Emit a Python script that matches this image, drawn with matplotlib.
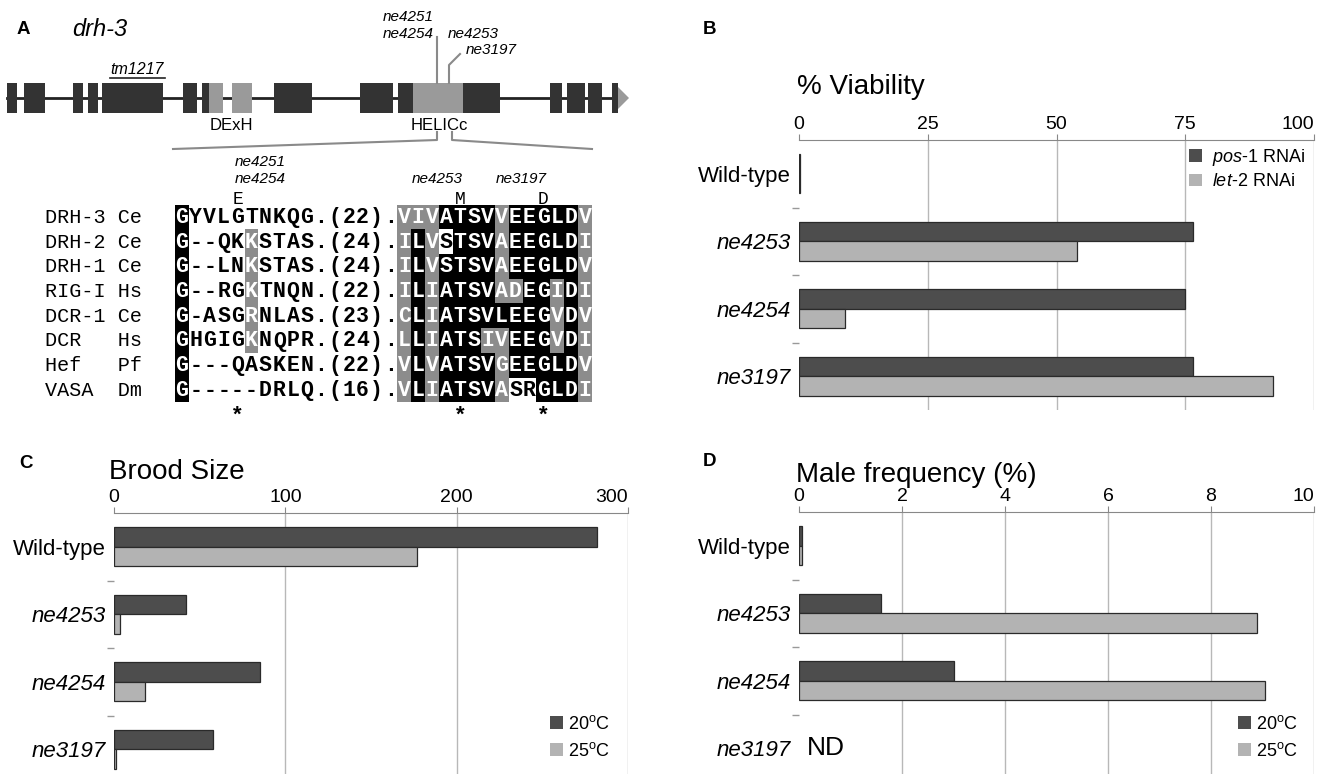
import numpy as np
import matplotlib
matplotlib.use('Agg')
import matplotlib.pyplot as plt
from matplotlib.patches import Rectangle, Polygon

plt.rcParams['font.family'] = ['Liberation Sans', 'DejaVu Sans']
plt.rcParams['mathtext.fontset'] = 'custom'
plt.rcParams['mathtext.rm'] = 'Liberation Sans'
plt.rcParams['mathtext.it'] = 'Liberation Sans:italic'

# ---------------- data ----------------
genotypes = ['Wild-type', 'ne4253', 'ne4254', 'ne3197']
viab_pos1 = [0.25, 76.5, 75.0, 76.5]
viab_let2 = [0.25, 54.0, 9.0, 92.0]
brood_20 = [282, 42, 85, 58]
brood_25 = [177, 3.5, 18, 1.0]
male_20 = [0.05, 1.6, 3.0, None]
male_25 = [0.05, 8.9, 9.05, None]

viab_ticks = [0, 25, 50, 75, 100]
brood_ticks = [0, 100, 200, 300]
male_ticks = [0, 2, 4, 6, 8, 10]

# gene model of drh-3 (pixel positions along the schematic)
exon_x0 = [7, 24, 73, 88, 102, 183, 202, 274, 360, 398, 463, 550, 567, 588, 612]
exon_x1 = [17, 45, 83, 98, 163, 197, 209, 312, 393, 413, 500, 562, 585, 602, 618]
domain_x0 = [209, 232, 413]
domain_x1 = [223, 252, 463]

# alignment
aln_names = ['DRH-3 Ce', 'DRH-2 Ce', 'DRH-1 Ce', 'RIG-I Hs',
             'DCR-1 Ce', 'DCR   Hs', 'Hef   Pf', 'VASA  Dm']
aln_seqs = ['GYVLGTNKQG.(22).VIVATSVVEEGLDV',
            'G--QKKSTAS.(24).ILVSTSVAEEGLDI',
            'G--LNKSTAS.(24).ILVSTSVAEEGLDV',
            'G--RGKTNQN.(22).ILIATSVADEGIDI',
            'G-ASGRNLAS.(23).CLIATSVLEEGVDV',
            'GHGIGKNQPR.(24).LLIATSIVEEGVDI',
            'G---QASKEN.(22).VLVATSVGEEGLDV',
            'G-----DRLQ.(16).VLIATSVASRGLDI']
aln_shade = ['k...............' + 'gggkkkkgkkkkkg',
             'k....g..........' + 'gkg.kkkgkkkkkg',
             'k....g..........' + 'gkgkkkkgkkkkkg',
             'k....g..........' + 'gkgkkkkggkkgkg',
             'k....g..........' + 'gkgkkkkkkkkgkg',
             'k....g..........' + 'gkgkkkggkkkgkg',
             'k...............' + 'gkgkkkkgkkkkkg',
             'k...............' + 'gkgkkkkg..kkkg']
mut_cols = [4, 20, 26]
mut_aa = ['E', 'M', 'D']

W, H = 1321, 774
fig = plt.figure(figsize=(W / 100, H / 100), dpi=100)

DARK = '#4d4d4d'
LIGHT = '#b3b3b3'
EDGE = '#2a2a2a'
GRID = '#b8b8b8'


def px_axes(left, top, right, bottom):
    return fig.add_axes([left / W, 1 - bottom / H, (right - left) / W, (bottom - top) / H])


# ---------------- panel A ----------------
axa = fig.add_axes([0, 0, 660 / W, 1])
axa.set_xlim(0, 660)
axa.set_ylim(H, 0)
axa.axis('off')

fig.text(17 / W, 1 - 30 / H, 'A', fontsize=13.5, fontweight='bold', va='center')
fig.text(72 / W, 1 - 30 / H, 'drh-3', fontsize=17, style='italic', va='center')

gy, gh = 83, 30
axa.plot([7, 618], [98, 98], color='#222222', lw=2, zorder=1)
for x0, x1 in zip(exon_x0, exon_x1):
    axa.add_patch(Rectangle((x0, gy), x1 - x0, gh, fc='#333333', ec='none', zorder=2))
for x0, x1 in zip(domain_x0, domain_x1):
    axa.add_patch(Rectangle((x0, gy), x1 - x0, gh, fc='#9a9a9a', ec='none', zorder=2))
axa.add_patch(Polygon([[618, 87], [629, 98], [618, 109]], closed=True,
                      fc='#9a9a9a', ec='none', zorder=2))

axa.text(137, 70, 'tm1217', fontsize=11.5, style='italic', ha='center', va='center')
axa.plot([110, 165], [78, 78], color='#222222', lw=1.2)
axa.text(231, 125, 'DExH', fontsize=12, ha='center', va='center')
axa.text(439, 125, 'HELICc', fontsize=12, ha='center', va='center')

MUTC = '#8a8a8a'
axa.plot([437, 437], [37, 83], color=MUTC, lw=1.5)
axa.plot([449, 449, 460], [83, 65, 54], color=MUTC, lw=1.5)
axa.text(383, 17, 'ne4251', fontsize=11, style='italic', va='center')
axa.text(383, 34, 'ne4254', fontsize=11, style='italic', va='center')
axa.text(448, 34, 'ne4253', fontsize=11, style='italic', va='center')
axa.text(466, 50, 'ne3197', fontsize=11, style='italic', va='center')

axa.plot([437, 437, 173], [132, 140, 149], color=MUTC, lw=1.5)
axa.plot([452, 452, 592], [132, 140, 149], color=MUTC, lw=1.5)

# alignment
cx0, cw = 175.0, 13.9
ry0, rh = 217.0, 24.7
for r, (name, seq, sh) in enumerate(zip(aln_names, aln_seqs, aln_shade)):
    yc = ry0 + r * rh
    axa.text(45, yc + 6, name, family='Liberation Mono', fontsize=14.5, va='baseline')
    for c, (ch, s) in enumerate(zip(seq, sh)):
        xl = cx0 + c * cw
        if s in 'kg':
            axa.add_patch(Rectangle((xl, yc - rh / 2), cw, rh,
                                    fc='#000000' if s == 'k' else '#8c8c8c', ec='none'))
            col = 'white'
        else:
            col = 'black'
        axa.text(xl + cw / 2, yc + 6, ch, family='Liberation Mono', fontweight='bold',
                 fontsize=15.5, color=col, ha='center', va='baseline')

for c, aa in zip(mut_cols, mut_aa):
    xc = cx0 + (c + 0.5) * cw
    axa.text(xc, 199, aa, family='Liberation Mono', fontsize=13, ha='center', va='center')
    axa.text(xc, 415, '*', fontsize=16, fontweight='bold', ha='center', va='center')
axa.text(260, 162, 'ne4251', fontsize=11, style='italic', ha='center', va='center')
axa.text(260, 179, 'ne4254', fontsize=11, style='italic', ha='center', va='center')
axa.text(437, 179, 'ne4253', fontsize=11, style='italic', ha='center', va='center')
axa.text(521, 179, 'ne3197', fontsize=11, style='italic', ha='center', va='center')


# ---------------- bar panels ----------------
def bar_panel(box, v1, v2, ticks, labels, leg_xy, leg_pad, leg_space):
    ax = px_axes(*box)
    n = len(genotypes)
    h = 0.29
    for i in range(n):
        if v1[i] is not None:
            ax.barh(i - h / 2, v1[i], height=h, color=DARK, edgecolor=EDGE, lw=0.9, zorder=3)
        if v2[i] is not None:
            ax.barh(i + h / 2, v2[i], height=h, color=LIGHT, edgecolor=EDGE, lw=0.9, zorder=3)
    ax.set_ylim(n - 0.5, -0.5)
    ax.set_xlim(ticks[0], ticks[-1])
    ax.xaxis.tick_top()
    ax.set_xticks(ticks)
    ax.set_xticklabels([str(t) for t in ticks])
    ax.get_xticklabels()[-1].set_horizontalalignment('right')
    ax.tick_params(axis='x', length=4, color='#888888', labelsize=14, pad=1)
    ax.grid(axis='x', color=GRID, lw=1, zorder=0)
    ax.set_axisbelow(True)
    ax.xaxis.get_gridlines()[0].set_visible(False)
    for s in ['left', 'right', 'bottom']:
        ax.spines[s].set_visible(False)
    ax.spines['top'].set_color('#888888')
    ax.set_yticks(range(n))
    ax.set_yticklabels(genotypes)
    ax.tick_params(axis='y', which='major', length=0, labelsize=16, pad=6)
    for k, t in enumerate(ax.get_yticklabels()):
        if k > 0:
            t.set_style('italic')
    ax.set_yticks(np.arange(0.5, n - 1, 1.0), minor=True)
    ax.tick_params(axis='y', which='minor', length=5, color='#999999', width=1)
    ax.set_facecolor('none')
    handles = [Rectangle((0, 0), 1, 1, fc=DARK, ec='none'),
               Rectangle((0, 0), 1, 1, fc=LIGHT, ec='none')]
    ax.legend(handles, labels, loc='upper left',
              bbox_to_anchor=(leg_xy[0] / W, 1 - leg_xy[1] / H), bbox_transform=fig.transFigure,
              frameon=False, fontsize=13, handlelength=0.7, handleheight=0.7,
              handletextpad=leg_pad, labelspacing=leg_space, borderpad=0, borderaxespad=0)
    return ax


axb = bar_panel((799, 140, 1314, 410), viab_pos1, viab_let2, viab_ticks,
                [r'$\mathit{pos}$-$\mathit{1}$ RNAi', r'$\mathit{let}$-$\mathit{2}$ RNAi'],
                (1189, 147), 0.6, 0.3)
axc = bar_panel((114, 513, 628, 783), brood_20, brood_25, brood_ticks,
                [r'20$^{\mathrm{o}}$C', r'25$^{\mathrm{o}}$C'], (550, 715), 0.3, 0.5)
axd = bar_panel((799, 512, 1314, 782), male_20, male_25, male_ticks,
                [r'20$^{\mathrm{o}}$C', r'25$^{\mathrm{o}}$C'], (1238, 715), 0.3, 0.5)
axd.text(0.15, 3, 'ND', fontsize=19, va='center', ha='left')

fig.text(703 / W, 1 - 30 / H, 'B', fontsize=13.5, fontweight='bold', va='center')
fig.text(19 / W, 1 - 463 / H, 'C', fontsize=13.5, fontweight='bold', va='center')
fig.text(703 / W, 1 - 462 / H, 'D', fontsize=13.5, fontweight='bold', va='center')
fig.text(797 / W, 1 - 87 / H, '% Viability', fontsize=20, va='center')
fig.text(109 / W, 1 - 472 / H, 'Brood Size', fontsize=20, va='center')
fig.text(796 / W, 1 - 475 / H, 'Male frequency (%)', fontsize=20, va='center')

fig.savefig('out.png', dpi=100)
